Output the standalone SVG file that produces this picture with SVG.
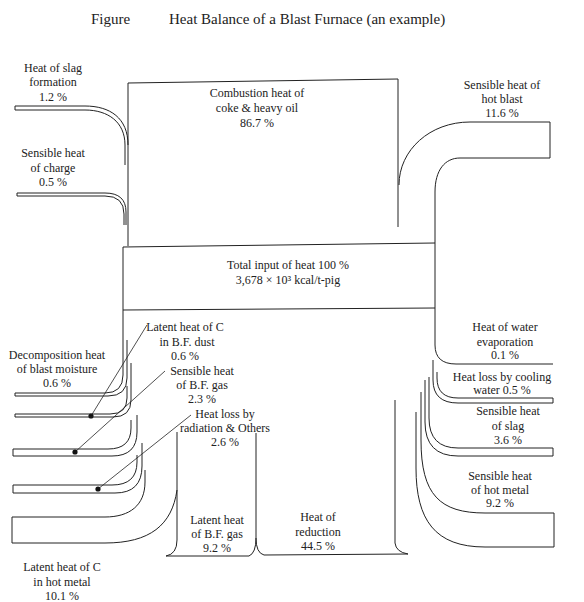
<svg xmlns="http://www.w3.org/2000/svg" width="584" height="602" viewBox="0 0 584 602">
<style>
text{font-family:"Liberation Serif","Times New Roman",serif;font-size:12px;fill:#222;text-anchor:middle}
.title{font-size:15px;text-anchor:start}
.ln{fill:none;stroke:#222;stroke-width:1}
.lead{fill:none;stroke:#222;stroke-width:0.8}
.dot{fill:#111}
</style>
<rect width="584" height="602" fill="#fff"/>
<text class="title" x="91" y="24">Figure</text>
<text class="title" x="169" y="24">Heat Balance of a Blast Furnace (an example)</text>

<g id="connectors">
  <path class="lead" d="M147,325 L91,416"/>
  <path class="lead" d="M165,371 L75,452"/>
  <path class="lead" d="M191,415 L98,489"/>
  <circle class="dot" cx="91" cy="416" r="2.6"/>
  <circle class="dot" cx="75" cy="452" r="2.6"/>
  <circle class="dot" cx="98" cy="489" r="2.6"/>
</g>

<g id="combustion">
  <path class="ln" d="M128,246 V83 L398,79 V227"/>
  <text x="257" y="97">Combustion heat of</text>
  <text x="257" y="112">coke &amp; heavy oil</text>
  <text x="257" y="127">86.7 %</text>
</g>

<g id="slag-formation">
  <path class="ln" d="M128,145 C128,118 110,106 85,106 H15 V110 H85 C108,110 125,122 125,145 V165"/>
  <text x="53" y="72">Heat of slag</text>
  <text x="53" y="86">formation</text>
  <text x="53" y="101">1.2 %</text>
</g>

<g id="charge">
  <path class="ln" d="M126,225 V212 Q126,193 105,193 H17 V196 H105 Q124,196 124,214 V225"/>
  <text x="53" y="157">Sensible heat</text>
  <text x="53" y="172">of charge</text>
  <text x="53" y="186">0.5 %</text>
</g>

<g id="hot-blast">
  <path class="ln" d="M399,185 C399,150 430,122 470,122 H550 V158 H460 C445,158 435,170 435,192 V243"/>
  <text x="502" y="89">Sensible heat of</text>
  <text x="502" y="103">hot blast</text>
  <text x="502" y="117">11.6 %</text>
</g>

<g id="total-input">
  <path class="ln" d="M123,247 L435,243 M123,310 L435,308 M123,247 V310 M435,243 V310"/>
  <text x="288" y="269">Total input of heat 100 %</text>
  <text x="288" y="284">3,678 × 10³ kcal/t-pig</text>
</g>

<g id="decomposition">
  <path class="ln" d="M123,310 V375 Q123,393 105,393 H15 V396 H108 Q127,396 127,378 V340"/>
  <text x="57" y="359">Decomposition heat</text>
  <text x="57" y="373">of blast moisture</text>
  <text x="57" y="387">0.6 %</text>
</g>

<g id="dust">
  <path class="ln" d="M127,386 V398 Q127,414 110,414 H15 V417 H113 Q131,417 131,400 V363"/>
  <text x="185" y="331">Latent heat of C</text>
  <text x="187" y="346">in B.F. dust</text>
  <text x="185" y="360">0.6 %</text>
</g>

<g id="bf-gas-sensible">
  <path class="ln" d="M131,420 V428 Q131,449 108,449 H13 V456 H112 Q137,456 137,432 V415"/>
  <text x="202" y="375">Sensible heat</text>
  <text x="202" y="389">of B.F. gas</text>
  <text x="202" y="403">2.3 %</text>
</g>

<g id="radiation">
  <path class="ln" d="M137,455 V462 Q137,485 112,485 H13 V493 H115 Q142,493 142,466 V443"/>
  <text x="225" y="418">Heat loss by</text>
  <text x="225" y="432">radiation &amp; Others</text>
  <text x="225" y="446">2.6 %</text>
</g>

<g id="latent-c-hot-metal">
  <path class="ln" d="M145,470 V482 C145,505 130,517 105,517 H12 V543 H105 C150,543 172,525 177,490"/>
  <text x="62" y="571">Latent heat of C</text>
  <text x="62" y="586">in hot metal</text>
  <text x="62" y="600">10.1 %</text>
</g>

<g id="bf-gas-latent">
  <path class="ln" d="M177,432 V540 Q177,554 166,556 H249 Q256,553 256,538 V433"/>
  <text x="217" y="524">Latent heat</text>
  <text x="217" y="538">of B.F. gas</text>
  <text x="217" y="552">9.2 %</text>
</g>

<g id="reduction">
  <path class="ln" d="M256,538 Q256,553 264,555 L408,554 Q396,552 395,543 V400"/>
  <text x="318" y="521">Heat of</text>
  <text x="318" y="536">reduction</text>
  <text x="318" y="550">44.5 %</text>
</g>

<g id="water-evaporation">
  <path class="ln" d="M435,310 V345 Q435,364 456,364 H553"/>
  <text x="505" y="331">Heat of water</text>
  <text x="505" y="346">evaporation</text>
  <text x="505" y="359">0.1 %</text>
</g>

<g id="cooling-water">
  <path class="ln" d="M437,372 V378 Q437,398 458,398 H553 V403 H458 Q433,403 433,380 V360"/>
  <text x="502" y="381">Heat loss by cooling</text>
  <text x="502" y="394">water 0.5 %</text>
</g>

<g id="slag-sensible">
  <path class="ln" d="M429,377 V418 Q429,448 458,448 H553 V456 H458 Q425,456 425,422 V380"/>
  <text x="508" y="415">Sensible heat</text>
  <text x="508" y="430">of slag</text>
  <text x="508" y="444">3.6 %</text>
</g>

<g id="hot-metal-sensible">
  <path class="ln" d="M421,392 V440 C421,495 440,513 485,513 H554 V547 H485 C435,547 416,520 416,468 V412"/>
  <text x="500" y="480">Sensible heat</text>
  <text x="500" y="494">of hot metal</text>
  <text x="500" y="507">9.2 %</text>
</g>
</svg>
